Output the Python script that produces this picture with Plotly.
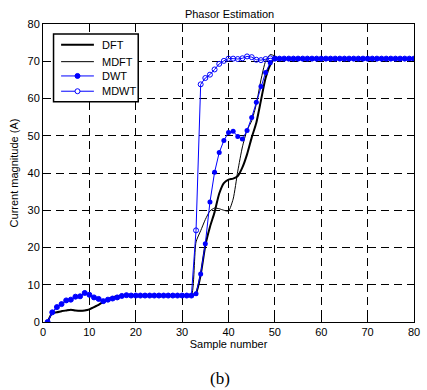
import plotly.graph_objects as go

samples = list(range(1, 81))

dft = [0, 2.4, 2.6, 2.9, 3.1, 3.3, 3.1, 3.0, 3.1, 3.4, 4.0, 4.6, 5.4, 6.1, 6.6, 6.9, 7.0, 7.1] + [7.1] * 14 + \
      [7.8, 12.7, 20.5, 25.5, 29.5, 34.5, 37.3, 38.2, 38.5, 39.2, 41.5, 45.0, 49.5, 53.5, 59.5, 65.5, 69.0, 70.7] + [70.7] * 30

mdft = dft[:32] + \
      [21.5, 24.5, 27.5, 29.8, 30.6, 30.4, 30.0, 29.8, 33.0, 40.5, 47.0, 51.5, 54.0, 58.5, 65.0, 70.0, 71.8, 71.4] + [70.7] * 30

low_blue = [0, 2.6, 4.0, 4.8, 5.8, 6.0, 6.8, 6.9, 7.8, 7.3, 6.6, 6.2, 5.6, 6.0, 6.3, 6.6, 7.0, 7.2] + [7.1] * 14

dwt = low_blue + \
      [7.6, 12.9, 21.0, 32.2, 40.2, 45.5, 48.7, 50.9, 51.2, 49.8, 49.1, 51.4, 54.9, 59.0, 63.2, 67.0, 69.6, 70.7] + [70.7] * 30

mdwt = low_blue + \
      [24.6, 63.8, 65.5, 66.4, 67.8, 69.3, 70.1, 70.7, 70.7, 70.6, 70.8, 71.3, 71.1, 70.4, 70.3, 70.6, 70.8, 70.7] + [70.7] * 30

x_ticks = [0, 10, 20, 30, 40, 50, 60, 70, 80]
y_ticks = [0, 10, 20, 30, 40, 50, 60, 70, 80]

FONT = "Liberation Sans, Arial, sans-serif"
BLUE = "#0000ff"

fig = go.Figure()
fig.add_trace(go.Scatter(x=samples, y=dft, mode="lines", name="DFT",
                         line=dict(color="black", width=2, shape="spline", smoothing=0.6)))
fig.add_trace(go.Scatter(x=samples, y=mdft, mode="lines", name="MDFT",
                         line=dict(color="black", width=1, shape="spline", smoothing=0.6)))
fig.add_trace(go.Scatter(x=samples, y=dwt, mode="lines+markers", name="DWT",
                         line=dict(color=BLUE, width=1),
                         marker=dict(symbol="circle", size=5, color=BLUE)))
fig.add_trace(go.Scatter(x=samples, y=mdwt, mode="lines+markers", name="MDWT",
                         line=dict(color=BLUE, width=1),
                         marker=dict(symbol="circle-open", size=5, color=BLUE, line=dict(width=1))))

# manual MATLAB-style legend
shapes = []
annotations = []
shapes.append(dict(type="rect", xref="paper", yref="paper", x0=0.0284, x1=0.2567, y0=0.7395, y1=0.9665,
                   line=dict(color="black", width=1.5), fillcolor="white", layer="above"))
entries = [("DFT", "black", 2, None), ("MDFT", "black", 1, None),
           ("DWT", BLUE, 1, "filled"), ("MDWT", BLUE, 1, "open")]
ys = [0.9306, 0.8736, 0.8257, 0.7744]
for (name, col, w, mk), yy in zip(entries, ys):
    shapes.append(dict(type="line", xref="paper", yref="paper", x0=0.0488, x1=0.1372, y0=yy, y1=yy,
                       line=dict(color=col, width=w), layer="above"))
    if mk:
        shapes.append(dict(type="circle", xref="paper", yref="paper", xsizemode="pixel", ysizemode="pixel",
                           xanchor=0.093, yanchor=yy, x0=-2.5, x1=2.5, y0=-2.5, y1=2.5,
                           line=dict(color=col, width=1),
                           fillcolor=col if mk == "filled" else "white", layer="above"))
    annotations.append(dict(text=name, xref="paper", yref="paper", x=0.153, y=yy, xanchor="left",
                            yanchor="middle", showarrow=False, font=dict(family=FONT, size=11, color="black")))

annotations.append(dict(text="(b)", xref="paper", yref="paper", x=0.478, y=-0.188, xanchor="center",
                        yanchor="middle", showarrow=False,
                        font=dict(family="Liberation Serif, Times New Roman, serif", size=17, color="black")))

axis_common = dict(showline=True, linecolor="black", linewidth=1, mirror="ticks",
                   ticks="inside", ticklen=5, tickcolor="black", tickwidth=1,
                   showgrid=True, gridcolor="black", gridwidth=1, griddash="8px,5px",
                   zeroline=False, tickfont=dict(family=FONT, size=11, color="black"))

fig.update_layout(
    width=427, height=390,
    margin=dict(l=43, r=7, t=24, b=68),
    paper_bgcolor="white", plot_bgcolor="white",
    showlegend=False,
    title=dict(text="Phasor Estimation", x=0.5375, xanchor="center", y=0.964, yanchor="middle",
               font=dict(family=FONT, size=11, color="black")),
    xaxis=dict(range=[0, 80], tickvals=x_ticks,
               title=dict(text="Sample number", font=dict(family=FONT, size=11, color="black"), standoff=2),
               **axis_common),
    yaxis=dict(range=[0, 80], tickvals=y_ticks,
               title=dict(text="Current magnitude (A)", font=dict(family=FONT, size=11, color="black"), standoff=6),
               **axis_common),
    shapes=shapes,
    annotations=annotations,
)

fig.write_html("out.html", config={"displayModeBar": False},
               post_script="document.body.style.margin='0';")
